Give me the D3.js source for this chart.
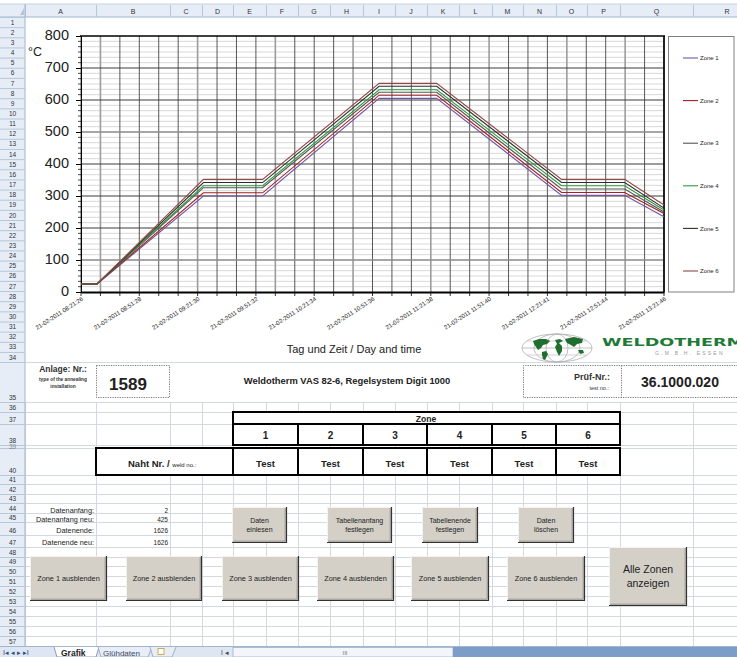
<!DOCTYPE html>
<html><head><meta charset="utf-8">
<script src="https://cdn.jsdelivr.net/npm/d3@7"></script>
<style>body{margin:0;background:#fff}svg{display:block}</style>
</head><body>
<svg id="c" width="737" height="657"></svg>
<script>
// ---------------- DATA ----------------
const xTickLabels = ["21-02-2011 08:21:26","21-02-2011 08:51:28","21-02-2011 09:21:30","21-02-2011 09:51:32","21-02-2011 10:21:34","21-02-2011 10:51:36","21-02-2011 11:21:38","21-02-2011 11:51:40","21-02-2011 12:21:41","21-02-2011 12:51:44","21-02-2011 13:21:46"];
const sampleTimes = ["21-02-2011 08:21:26","21-02-2011 08:29:40","21-02-2011 09:24:30","21-02-2011 09:55:00","21-02-2011 10:55:00","21-02-2011 11:24:40","21-02-2011 12:29:00","21-02-2011 13:01:30","21-02-2011 13:21:46"];
const zone1 = [25,25,300,300,605,605,302,302,235];
const zone2 = [25,25,310,310,615,615,311,311,245];
const zone3 = [25,25,326,326,624,624,322,322,250];
const zone4 = [25,25,332,332,632,632,332,332,256];
const zone5 = [25,25,342,342,643,643,342,342,262];
const zone6 = [25,25,352,352,652,652,352,352,272];
const zoneNames = ["Zone 1","Zone 2","Zone 3","Zone 4","Zone 5","Zone 6"];
const yTickValues = [0,100,200,300,400,500,600,700,800];
const zoneNumbers = ["1","2","3","4","5","6"];
const weldNos = ["Test","Test","Test","Test","Test","Test"];
const infoLabels = ["Datenanfang:","Datenanfang neu:","Datenende:","Datenende neu:"];
const infoValues = ["2","425","1626","1626"];
const colLetters = ["A","B","C","D","E","F","G","H","I","J","K","L","M","N","O","P","Q","R"];

// ---------------- SETUP ----------------
const svg = d3.select("#c");
const F = "Liberation Sans, Arial, sans-serif";
const parse = d3.timeParse("%d-%m-%Y %H:%M:%S");
const zoneColors = ["#7456a8","#a3221e","#555555","#2c9a3c","#2f2f2f","#8f4a46"];
const zones = [zone1,zone2,zone3,zone4,zone5,zone6];
const gridC = "#d3d9e3";

const colX = [25,96,170,202,233,266,298,330,363,395,427,459,492,523,556,587,620,693,760];
const rowTops = [];
for (let k=0;k<34;k++) rowTops.push(17 + k*10.15);
const lowerBottoms = [402,412,424,445,448,475,484,494,503,513,522,535,547,557,566,576,586,596,606,616,626,636,646];
const rowEdges = rowTops.concat([362]).concat(lowerBottoms);

// ---------------- SPREADSHEET BACKGROUND ----------------
const g0 = svg.append("g");
rowEdges.filter(y=>y>=362).forEach(y=>{
  g0.append("line").attr("x1",25).attr("x2",737).attr("y1",y+0.5).attr("y2",y+0.5).attr("stroke",gridC);
});
colX.forEach(x=>{
  g0.append("line").attr("x1",x+0.5).attr("x2",x+0.5).attr("y1",402).attr("y2",646).attr("stroke",gridC);
});

svg.append("rect").attr("x",0).attr("y",4).attr("width",737).attr("height",13).attr("fill","#e6edf7");
svg.append("line").attr("x1",0).attr("x2",737).attr("y1",17).attr("y2",17).attr("stroke","#9eb6ce");
svg.append("line").attr("x1",0).attr("x2",737).attr("y1",4).attr("y2",4).attr("stroke","#c5d3e3");
colX.forEach(x=>svg.append("line").attr("x1",x+0.5).attr("x2",x+0.5).attr("y1",5).attr("y2",17).attr("stroke","#b6c7da"));
colLetters.forEach((c,i)=>{
  const cx = (colX[i]+Math.min(colX[i+1],760))/2;
  svg.append("text").attr("x",i===17?727:cx).attr("y",14).attr("text-anchor","middle")
    .attr("font-family",F).attr("font-size",7).attr("fill","#333").text(c);
});
svg.append("rect").attr("x",0).attr("y",17).attr("width",25).attr("height",629).attr("fill","#e6edf7");
svg.append("line").attr("x1",25).attr("x2",25).attr("y1",4).attr("y2",646).attr("stroke","#9eb6ce");
svg.append("polygon").attr("points","20,15 24,15 24,8").attr("fill","#b5c4d6");
for (let i=0;i<rowEdges.length;i++){
  const yy = rowEdges[i];
  svg.append("line").attr("x1",0).attr("x2",25).attr("y1",yy+0.5).attr("y2",yy+0.5).attr("stroke","#b6c7da");
}
for (let r=1;r<=57;r++){
  const top = rowEdges[r-1], bot = rowEdges[r];
  if (bot-top < 5) {
    svg.append("text").attr("x",12.5).attr("y",bot+1).attr("text-anchor","middle").attr("font-family",F)
      .attr("font-size",6.5).attr("fill","#333").attr("opacity",0.5).text(r);
    continue;
  }
  svg.append("text").attr("x",12.5).attr("y",bot-2.5).attr("text-anchor","middle")
    .attr("font-family",F).attr("font-size",6.5).attr("fill","#333").text(r);
}

// ---------------- CHART OBJECT ----------------
svg.append("rect").attr("x",26).attr("y",18).attr("width",711).attr("height",343.5).attr("fill","#fff");

const x = d3.scaleTime().domain([parse(xTickLabels[0]), parse(xTickLabels[xTickLabels.length-1])]).range([81,664]);
const y = d3.scaleLinear().domain([0,800]).range([292,36]);
const [t0,t1] = x.domain();
const gridTimes = d3.range(0,31).map(k=>new Date(+t0 + k*(t1-t0)/30));
const minorVals = [];
for (let v=0; v<800; v+=100) for (let m=1;m<6;m++) minorVals.push(v+m*100/6);

const ch = svg.append("g");
minorVals.forEach(v=>ch.append("line").attr("x1",81).attr("x2",664).attr("y1",y(v)).attr("y2",y(v)).attr("stroke","#d4d4d4").attr("stroke-width",0.9));
const lightIdx = [1,6,10,14,18,21,25,28];
gridTimes.forEach((t,i)=>{
  const lt = lightIdx.includes(i);
  ch.append("line").attr("x1",x(t)).attr("x2",x(t)).attr("y1",36).attr("y2",292)
    .attr("stroke",lt?"#9c9c9c":"#454545").attr("stroke-width",lt?1.6:0.9);
  ch.append("line").attr("x1",x(t)).attr("x2",x(t)).attr("y1",292).attr("y2",296).attr("stroke","#000").attr("stroke-width",0.8);
});
yTickValues.filter(v=>v>0&&v<800).forEach(v=>{
  const lt = (v===100||v===500);
  ch.append("line").attr("x1",81).attr("x2",664).attr("y1",y(v)).attr("y2",y(v))
    .attr("stroke",lt?"#8a8a8a":"#3a3a3a").attr("stroke-width",lt?1.6:1);
});
ch.append("line").attr("x1",80).attr("x2",665).attr("y1",36).attr("y2",36).attr("stroke","#000").attr("stroke-width",1.6);
ch.append("line").attr("x1",664).attr("x2",664).attr("y1",36).attr("y2",292).attr("stroke","#000").attr("stroke-width",1.6);

const ya = ch.append("g").attr("transform","translate(81,0)")
  .call(d3.axisLeft(y).tickValues(yTickValues).tickSize(5).tickPadding(7));
ya.select(".domain").attr("stroke","#000").attr("stroke-width",1);
ya.selectAll("line").attr("stroke","#000");
ya.selectAll("text").attr("font-family",F).attr("font-size",14.5).attr("fill","#222").attr("dy","0.25em");
minorVals.forEach(v=>ch.append("line").attr("x1",78).attr("x2",81).attr("y1",y(v)).attr("y2",y(v)).attr("stroke","#000").attr("stroke-width",0.7));

const xa = ch.append("g").attr("transform","translate(0,292)")
  .call(d3.axisBottom(x).tickValues(xTickLabels.map(parse)).tickSize(0)
    .tickFormat((d,i)=>xTickLabels[i]));
xa.select(".domain").attr("stroke","#000").attr("stroke-width",2);
xa.selectAll("text").attr("font-family",F).attr("font-size",6).attr("fill","#222")
  .attr("text-anchor","end").attr("y",0).attr("dy",0)
  .attr("transform","translate(2,8) rotate(-33)");

const line = d3.line().x((d,i)=>x(parse(sampleTimes[i]))).y(d=>y(d));
zones.forEach((z,i)=>{
  ch.append("path").datum(z).attr("d",line).attr("fill","none")
    .attr("stroke",zoneColors[i]).attr("stroke-width",1.1);
});

const lg = ch.append("g");
lg.append("rect").attr("x",668.5).attr("y",36.5).attr("width",65.5).attr("height",255.5).attr("fill","#fff").attr("stroke","#808080");
zoneNames.forEach((n,i)=>{
  const ly = 58 + i*42.6;
  lg.append("line").attr("x1",683).attr("x2",698).attr("y1",ly).attr("y2",ly).attr("stroke",zoneColors[i]).attr("stroke-width",1.1);
  lg.append("text").attr("x",700).attr("y",ly).attr("dy","0.35em").attr("font-family",F).attr("font-size",6).attr("fill","#222").text(n);
});

ch.append("text").attr("x",28).attr("y",56).attr("font-family",F).attr("font-size",12.5).attr("fill","#222").text("°C");
ch.append("text").attr("x",354).attr("y",353).attr("text-anchor","middle").attr("font-family",F).attr("font-size",11).attr("fill","#222").text("Tag und Zeit / Day and time");

// logo
const lo = svg.append("g");
const gx=557, gy=348;
[[35,14],[23,14],[11,14]].forEach(([rx,ry])=>lo.append("ellipse").attr("cx",gx).attr("cy",gy).attr("rx",rx).attr("ry",ry).attr("fill","none").attr("stroke","#b0b0b0").attr("stroke-width",0.8));
lo.append("line").attr("x1",gx-35).attr("x2",gx+35).attr("y1",gy).attr("y2",gy).attr("stroke","#b0b0b0").attr("stroke-width",0.8);
[-7,7].forEach(dy=>lo.append("line").attr("x1",gx-30).attr("x2",gx+30).attr("y1",gy+dy).attr("y2",gy+dy).attr("stroke","#c0c0c0").attr("stroke-width",0.7));
const cont = ["M533,341 L539,339 L546,339 L550,341 L547,344 L543,345 L541,348 L538,350 L536,347 L534,344 Z",
 "M542,352 L546,351 L548,354 L545,360 L543,359 L542,355 Z",
 "M555,340 L560,339 L563,341 L559,343 L562,346 L562,351 L559,356 L557,352 L555,347 L557,344 Z",
 "M565,339 L574,337 L583,339 L582,343 L577,344 L574,347 L571,345 L567,343 Z",
 "M578,350 L583,350 L584,353 L580,354 Z"];
cont.forEach(p=>lo.append("path").attr("d",p).attr("fill","#1f6e30"));
lo.append("text").attr("x",602).attr("y",346).attr("font-family","DejaVu Sans, sans-serif").attr("font-weight","bold")
  .attr("font-size",10).attr("fill","#1f7a36").attr("textLength",142).attr("lengthAdjust","spacingAndGlyphs").text("WELDOTHERM");
lo.append("text").attr("x",655).attr("y",355).attr("font-family",F).attr("font-size",5).attr("fill","#9a9a9a")
  .attr("letter-spacing",2.2).text("G.M.B.H. ESSEN");

// ---------------- ROW 35 INFO ----------------
const r35 = svg.append("g").attr("font-family",F);
r35.append("text").attr("x",63).attr("y",372).attr("text-anchor","middle").attr("font-weight","bold").attr("font-size",8.5).attr("fill","#333").text("Anlage: Nr.:");
r35.append("text").attr("x",63).attr("y",381).attr("text-anchor","middle").attr("font-weight","bold").attr("font-size",4.8).attr("fill","#333").text("type of the annealing");
r35.append("text").attr("x",63).attr("y",387.5).attr("text-anchor","middle").attr("font-weight","bold").attr("font-size",4.8).attr("fill","#333").text("installation");
r35.append("rect").attr("x",96.5).attr("y",365.5).attr("width",73).attr("height",32).attr("fill","none").attr("stroke","#555").attr("stroke-dasharray","1.2,1.2").attr("stroke-width",0.8);
r35.append("text").attr("x",128).attr("y",390).attr("text-anchor","middle").attr("font-weight","bold").attr("font-size",17).attr("fill","#222").text("1589");
r35.append("text").attr("x",347).attr("y",384).attr("text-anchor","middle").attr("font-weight","bold").attr("font-size",9.4).attr("fill","#222").text("Weldotherm VAS 82-6, Regelsystem Digit 1000");
r35.append("path").attr("d","M740,365.5 L523.5,365.5 L523.5,397.5 L740,397.5 M621.5,365.5 L621.5,397.5").attr("fill","none").attr("stroke","#555").attr("stroke-dasharray","1.2,1.2").attr("stroke-width",0.8);
r35.append("text").attr("x",610).attr("y",380).attr("text-anchor","end").attr("font-weight","bold").attr("font-size",9).attr("fill","#333").text("Prüf-Nr.:");
r35.append("text").attr("x",609).attr("y",390).attr("text-anchor","end").attr("font-size",5.5).attr("fill","#333").text("test no.:");
r35.append("text").attr("x",680).attr("y",387).attr("text-anchor","middle").attr("font-weight","bold").attr("font-size",14).attr("fill","#222").text("36.1000.020");

// ---------------- ZONE TABLE ----------------
const tb = svg.append("g").attr("font-family",F);
const cellX = [233,298,363,427,492,556,620];
tb.append("rect").attr("x",233).attr("y",412).attr("width",387).attr("height",33).attr("fill","#fff");
tb.append("rect").attr("x",96).attr("y",448).attr("width",524).attr("height",27).attr("fill","#fff");
tb.append("text").attr("x",426).attr("y",422).attr("text-anchor","middle").attr("font-weight","bold").attr("font-size",8.5).attr("fill","#222").text("Zone");
zoneNumbers.forEach((n,i)=>{
  const cx = (cellX[i]+cellX[i+1])/2;
  tb.append("text").attr("x",cx).attr("y",439).attr("text-anchor","middle").attr("font-weight","bold").attr("font-size",10).attr("fill","#222").text(n);
  tb.append("text").attr("x",cx).attr("y",467).attr("text-anchor","middle").attr("font-weight","bold").attr("font-size",9.5).attr("fill","#222").text(weldNos[i]);
});
const nt = tb.append("text").attr("x",128).attr("y",467).attr("font-weight","bold").attr("font-size",9.5).attr("fill","#222");
nt.append("tspan").text("Naht Nr. / ");
nt.append("tspan").attr("font-weight","normal").attr("font-size",6).text("weld no.:");
const bw = 2;
tb.append("rect").attr("x",233).attr("y",412).attr("width",387).attr("height",33).attr("fill","none").attr("stroke","#000").attr("stroke-width",bw);
tb.append("line").attr("x1",233).attr("x2",620).attr("y1",424).attr("y2",424).attr("stroke","#000").attr("stroke-width",bw);
cellX.slice(1,6).forEach(cx=>tb.append("line").attr("x1",cx).attr("x2",cx).attr("y1",424).attr("y2",445).attr("stroke","#000").attr("stroke-width",bw));
tb.append("rect").attr("x",96).attr("y",448).attr("width",524).attr("height",27).attr("fill","none").attr("stroke","#000").attr("stroke-width",bw);
cellX.slice(0,6).forEach(cx=>tb.append("line").attr("x1",cx).attr("x2",cx).attr("y1",448).attr("y2",475).attr("stroke","#000").attr("stroke-width",bw));

// ---------------- INFO CELLS ----------------
const infoY = [513,522,533,545];
infoLabels.forEach((l,i)=>{
  svg.append("text").attr("x",94).attr("y",infoY[i]).attr("text-anchor","end").attr("font-family",F).attr("font-size",7.3).attr("fill","#222").text(l);
  svg.append("text").attr("x",168).attr("y",infoY[i]).attr("text-anchor","end").attr("font-family",F).attr("font-size",6.5).attr("fill","#222").text(infoValues[i]);
});

// ---------------- BUTTONS ----------------
function button(x0,y0,x1,y1,lines,fs){
  const g = svg.append("g");
  g.append("rect").attr("x",x0).attr("y",y0).attr("width",x1-x0).attr("height",y1-y0).attr("fill","#d4d0c8");
  g.append("path").attr("d",`M${x0+0.5},${y1} L${x0+0.5},${y0+0.5} L${x1},${y0+0.5}`).attr("fill","none").attr("stroke","#f4f2ee");
  g.append("path").attr("d",`M${x0},${y1-0.5} L${x1-0.5},${y1-0.5} L${x1-0.5},${y0}`).attr("fill","none").attr("stroke","#333").attr("stroke-width",1.2);
  g.append("path").attr("d",`M${x0+1},${y1-1.8} L${x1-1.8},${y1-1.8} L${x1-1.8},${y0+1}`).attr("fill","none").attr("stroke","#8a8780").attr("stroke-width",0.8);
  const cx=(x0+x1)/2, cy=(y0+y1)/2, lh=fs*1.3;
  lines.forEach((t,i)=>{
    g.append("text").attr("x",cx).attr("y",cy+(i-(lines.length-1)/2)*lh).attr("dy","0.35em").attr("text-anchor","middle")
      .attr("font-family",F).attr("font-size",fs).attr("fill","#222").text(t);
  });
}
button(232,507,287,543,["Daten","einlesen"],7);
button(327,507,392,543,["Tabellenanfang","festlegen"],7);
button(422,507,478,543,["Tabellenende","festlegen"],7);
button(518,507,574,543,["Daten","löschen"],7);
const zb = [[30,107],[126,202],[222,299],[317,394],[411,489],[507,585]];
zb.forEach(([a,b],i)=>button(a,556,b,601,[zoneNames[i]+" ausblenden"],7.3));
button(609,547,687,606,["Alle Zonen","anzeigen"],10.5);

// ---------------- SHEET TABS ----------------
const tg = svg.append("g").attr("font-family",F);
tg.append("rect").attr("x",0).attr("y",646).attr("width",737).attr("height",11).attr("fill","#dde6f2");
tg.append("line").attr("x1",0).attr("x2",737).attr("y1",646.5).attr("y2",646.5).attr("stroke","#9eb6ce");
tg.append("text").attr("x",3).attr("y",655).attr("font-size",7).attr("fill","#2a4a7a").text("I◂ ◂ ▸ ▸I");
tg.append("path").attr("d","M54,647 L57,657 L96,657 L99,647").attr("fill","#fff").attr("stroke","#6c84a8").attr("stroke-width",0.8);
tg.append("text").attr("x",61).attr("y",655.5).attr("font-size",8.5).attr("font-weight","bold").attr("fill","#222").text("Grafik");
tg.append("path").attr("d","M98,647 L101,657 L148,657 L152,647").attr("fill","#e9eef6").attr("stroke","#8ea2c0").attr("stroke-width",0.8);
tg.append("text").attr("x",103).attr("y",655.5).attr("font-size",8).attr("fill","#3a4a66").text("Glühdaten");
tg.append("path").attr("d","M150,647 L153,657 L172,657 L176,647").attr("fill","#e9eef6").attr("stroke","#8ea2c0").attr("stroke-width",0.8);
tg.append("rect").attr("x",158).attr("y",648.5).attr("width",6).attr("height",6).attr("fill","#fff").attr("stroke","#c9962f").attr("stroke-width",0.8);
tg.append("text").attr("x",221).attr("y",655).attr("font-size",6.5).attr("fill","#444").text("I ◂");
tg.append("rect").attr("x",233).attr("y",647.5).attr("width",220).attr("height",9.5).attr("fill","#f2f5fa").attr("stroke","#9fb0c8").attr("stroke-width",0.8);
tg.append("text").attr("x",345).attr("y",655).attr("text-anchor","middle").attr("font-size",6).attr("fill","#777").text("III");
tg.append("rect").attr("x",453).attr("y",647).attr("width",284).attr("height",10).attr("fill","#7d9cc9");
</script>
</body></html>
